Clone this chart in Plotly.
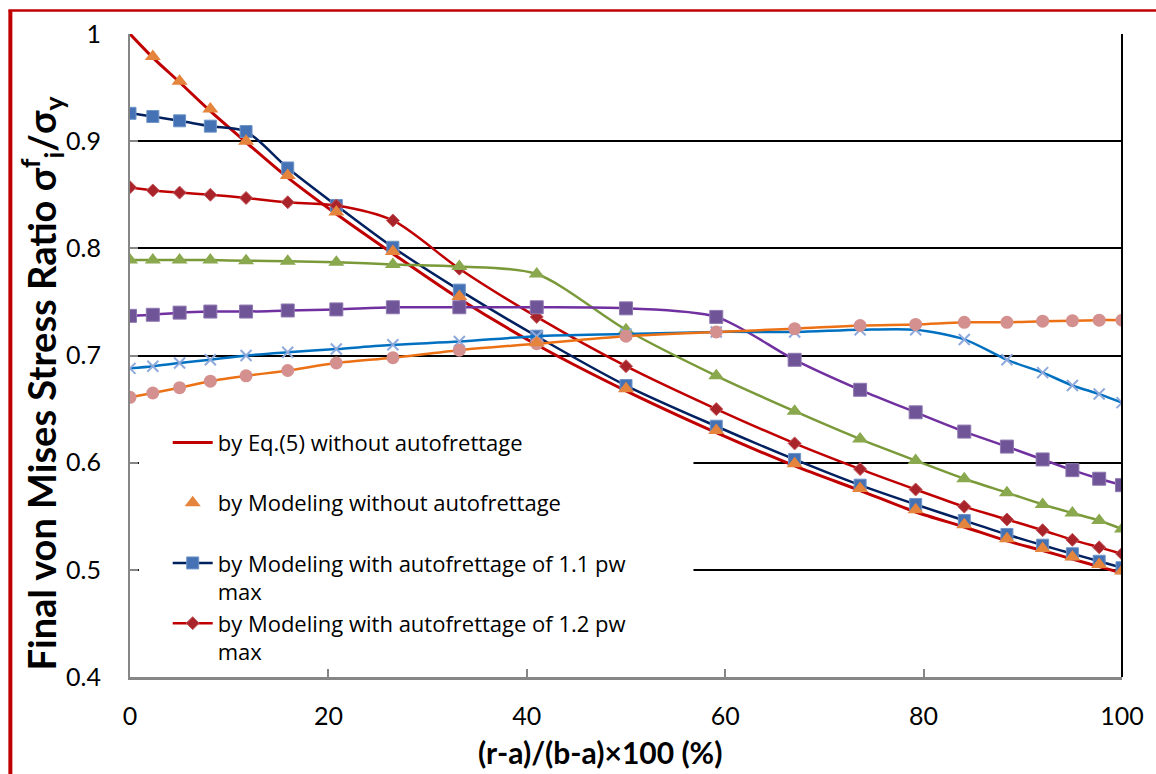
import plotly.graph_objects as go

# ---------------- data ----------------
x_pos = [0, 2.3, 5, 8.1, 11.7, 15.9, 20.8, 26.5, 33.2, 41, 50, 59.1, 67, 73.6,
         79.2, 84.1, 88.4, 92, 95, 97.7, 100]

eq5_no_af = [1.000, 0.978, 0.955, 0.928, 0.899, 0.866, 0.832, 0.795, 0.753, 0.710,
             0.667, 0.628, 0.597, 0.574, 0.554, 0.540, 0.527, 0.518, 0.510, 0.503, 0.497]
model_no_af = [None, 0.979, 0.956, 0.930, 0.900, 0.868, 0.834, 0.797, 0.755, 0.712,
               0.669, 0.630, 0.599, 0.576, 0.556, 0.542, 0.529, 0.520, 0.512, 0.505, 0.499]
model_af_11 = [0.926, 0.923, 0.919, 0.914, 0.909, 0.875, 0.840, 0.801, 0.761, 0.718,
               0.672, 0.634, 0.603, 0.579, 0.561, 0.546, 0.533, 0.523, 0.515, 0.508, 0.502]
model_af_12 = [0.857, 0.854, 0.852, 0.850, 0.847, 0.843, 0.840, 0.826, 0.781, 0.736,
               0.690, 0.650, 0.618, 0.594, 0.575, 0.559, 0.547, 0.537, 0.528, 0.521, 0.515]
series_green = [0.789, 0.789, 0.789, 0.789, 0.7885, 0.788, 0.787, 0.785, 0.783, 0.776,
                0.724, 0.681, 0.648, 0.622, 0.602, 0.585, 0.572, 0.561, 0.553, 0.546, 0.538]
series_purple = [0.737, 0.738, 0.740, 0.741, 0.741, 0.742, 0.743, 0.745, 0.745, 0.745,
                 0.744, 0.736, 0.696, 0.668, 0.647, 0.629, 0.615, 0.603, 0.593, 0.585, 0.579]
series_bluex = [0.688, 0.690, 0.693, 0.696, 0.700, 0.703, 0.706, 0.710, 0.713, 0.718,
                0.720, 0.722, 0.722, 0.724, 0.724, 0.715, 0.696, 0.684, 0.672, 0.664, 0.656]
series_circle = [0.661, 0.665, 0.670, 0.676, 0.681, 0.686, 0.693, 0.698, 0.705, 0.711,
                 0.718, 0.722, 0.725, 0.728, 0.729, 0.731, 0.731, 0.732, 0.7325, 0.733, 0.733]

x_ticks = [0, 20, 40, 60, 80, 100]
x_tick_labels = ["0", "20", "40", "60", "80", "100"]
y_ticks = [0.4, 0.5, 0.6, 0.7, 0.8, 0.9, 1.0]
y_tick_labels = ["0.4", "0.5", "0.6", "0.7", "0.8", "0.9", "1"]

x_title = "<b>(r-a)/(b-a)×100 (%)</b>"
y_title = "<b>Final von Mises Stress Ratio σ<sup>f</sup><sub>i</sub>/σ<sub>y</sub></b>"

name_eq5 = "by Eq.(5) without autofrettage<br>\u00a0"
name_noaf = "by Modeling without autofrettage<br>\u00a0"
name_af11 = "by Modeling with autofrettage of 1.1 pw<br>max"
name_af12 = "by Modeling with autofrettage of 1.2 pw<br>max"

FONT = "Lato"
LEG_FONT = "Open Sans"

fig = go.Figure()

spl = dict(shape="spline", smoothing=0.8)

fig.add_trace(go.Scatter(x=x_pos, y=eq5_no_af, mode="lines", name=name_eq5,
                         line=dict(color="#C00000", width=3, **spl), legendrank=1))
fig.add_trace(go.Scatter(x=x_pos, y=model_af_11, mode="lines+markers", name=name_af11,
                         line=dict(color="#002060", width=2.5, **spl),
                         marker=dict(symbol="square", size=12, color="#4472B4",
                                     line=dict(width=1, color="#6F95C8")),
                         legendrank=3))
fig.add_trace(go.Scatter(x=x_pos, y=model_af_12, mode="lines+markers", name=name_af12,
                         line=dict(color="#C00000", width=2.5, **spl),
                         marker=dict(symbol="diamond", size=10, color="#A8232A",
                                     line=dict(width=1, color="#C45A5E")),
                         legendrank=4))
fig.add_trace(go.Scatter(x=x_pos, y=series_green, mode="lines+markers", showlegend=False,
                         line=dict(color="#7A9A3A", width=2.5, **spl),
                         marker=dict(symbol="triangle-up", size=14, color="#8AA84E")))
fig.add_trace(go.Scatter(x=x_pos, y=series_purple, mode="lines+markers", showlegend=False,
                         line=dict(color="#7030A0", width=2.5, **spl),
                         marker=dict(symbol="square", size=13, color="#705498",
                                     line=dict(width=1, color="#8E78B0"))))
fig.add_trace(go.Scatter(x=x_pos, y=series_bluex, mode="lines+markers", showlegend=False,
                         line=dict(color="#0070C0", width=2.5, **spl),
                         marker=dict(symbol="x-thin", size=11,
                                     line=dict(width=2, color="#8EA9DB"))))
fig.add_trace(go.Scatter(x=x_pos, y=series_circle, mode="lines+markers", showlegend=False,
                         line=dict(color="#EC7014", width=2.5, **spl),
                         marker=dict(symbol="circle", size=13, color="#D4908E")))
fig.add_trace(go.Scatter(x=x_pos, y=model_no_af, mode="markers", name=name_noaf,
                         marker=dict(symbol="triangle-up", size=14, color="#E5843C"),
                         legendrank=2))

fig.update_layout(
    width=1156, height=774, autosize=False,
    margin=dict(l=130, r=31, t=34, b=97, pad=0),
    paper_bgcolor="white", plot_bgcolor="white",
    font=dict(family=FONT, color="black"),
    showlegend=True,
    legend=dict(x=0.038, y=0.397, xanchor="left", yanchor="top",
                bgcolor="rgba(0,0,0,0)", font=dict(family=LEG_FONT, size=22, color="black"),
                valign="top", tracegroupgap=0, itemwidth=40),
    xaxis=dict(range=[0, 100], tickvals=x_ticks, ticktext=x_tick_labels,
               ticks="inside", ticklen=8, tickwidth=2, tickcolor="#868686",
               showline=True, linecolor="#868686", linewidth=2.5,
               showgrid=False, zeroline=False,
               tickfont=dict(family=FONT, size=25, color="black"),
               ticklabelstandoff=15),
    yaxis=dict(range=[0.4, 1.0], tickvals=y_ticks, ticktext=y_tick_labels,
               ticks="inside", ticklen=8, tickwidth=2, tickcolor="#868686",
               showline=True, linecolor="#868686", linewidth=2,
               showgrid=True, gridcolor="black", gridwidth=1.5, zeroline=False,
               tickfont=dict(family=FONT, size=25, color="black"),
               ticklabelstandoff=22),
    annotations=[
        dict(text=x_title, xref="paper", yref="paper", x=0.4734, y=-0.1166,
             xanchor="center", yanchor="middle", showarrow=False,
             font=dict(family=FONT, size=30, color="black")),
        dict(text=y_title, xref="paper", yref="paper", x=-0.0884, y=0.457,
             xanchor="center", yanchor="middle", showarrow=False, textangle=-90,
             font=dict(family=FONT, size=38, color="black")),
    ],
    shapes=[
        # white legend background hiding the grid
        dict(type="rect", xref="x", yref="y", x0=0.9, x1=56.8, y0=0.403, y1=0.64,
             fillcolor="white", line=dict(width=0), layer="between"),
        # right frame line of the plot area
        dict(type="line", xref="x domain", yref="y domain", x0=1, x1=1, y0=0, y1=1,
             line=dict(color="black", width=2), layer="above"),
        # red page frame
        dict(type="line", xref="paper", yref="paper", x0=-0.1206, x1=-0.1206,
             y0=-0.16, y1=1.0365, line=dict(color="#C00000", width=4)),
        dict(type="line", xref="paper", yref="paper", x0=-0.1226, x1=1.04,
             y0=1.0365, y1=1.0365, line=dict(color="#C00000", width=2.5)),
    ],
)

fig.write_html("out.html")
